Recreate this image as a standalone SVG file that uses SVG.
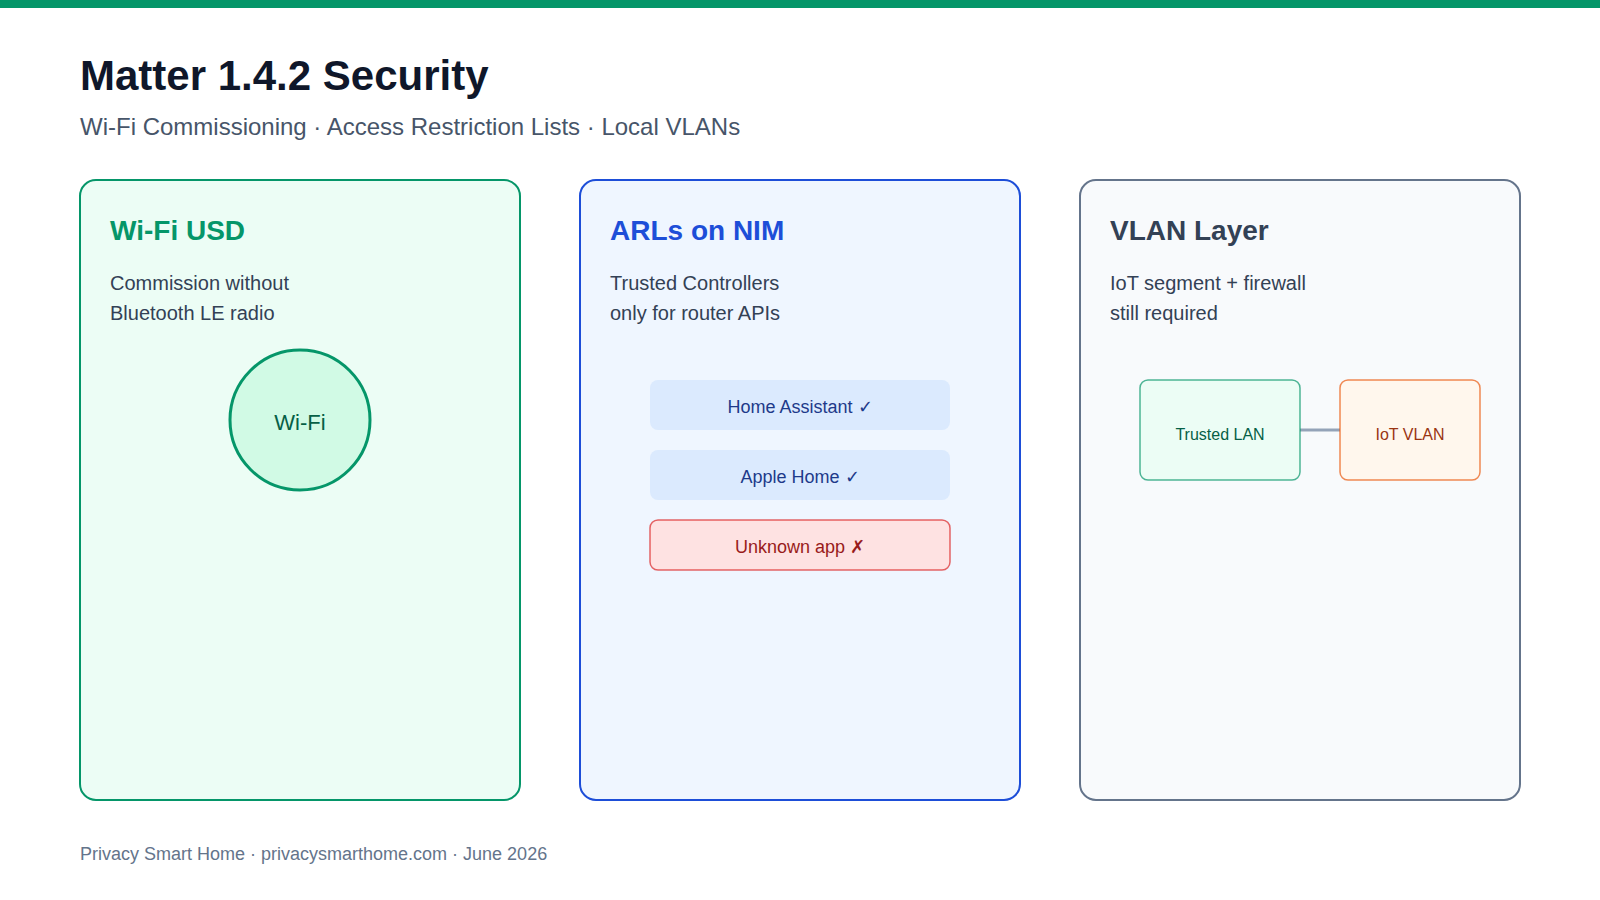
<svg xmlns="http://www.w3.org/2000/svg" width="1600" height="900" viewBox="0 0 1600 900">
<style>
text{font-family:"Liberation Sans",Arial,sans-serif}
.card{stroke-width:2}
.ct{font-size:28px;font-weight:700}
.cb{font-size:20px;fill:#334155}
.pill{font-size:18px;text-anchor:middle}
.net{font-size:16px;text-anchor:middle}
.soft{stroke-width:1.5;stroke-opacity:.7}
</style>
<rect id="topbar" x="0" y="0" width="1600" height="8" fill="#059669"/>
<text x="80" y="90" font-size="42" font-weight="700" fill="#0f172a">Matter 1.4.2 Security</text>
<text x="80" y="135" font-size="24" fill="#475569">Wi-Fi Commissioning · Access Restriction Lists · Local VLANs</text>
<g id="card-wifi">
<rect class="card" x="80" y="180" width="440" height="620" rx="16" fill="#ecfdf5" stroke="#059669"/>
<text class="ct" x="110" y="240" fill="#059669">Wi-Fi USD</text>
<text class="cb" x="110" y="290">Commission without</text>
<text class="cb" x="110" y="320">Bluetooth LE radio</text>
</g>
<g id="node-wifi">
<circle cx="300" cy="420" r="70" fill="#d1fae5" stroke="#059669" stroke-width="3"/>
<text x="300" y="430" font-size="22" text-anchor="middle" fill="#065f46">Wi-Fi</text>
</g>
<g id="card-arl">
<rect class="card" x="580" y="180" width="440" height="620" rx="16" fill="#eff6ff" stroke="#1d4ed8"/>
<text class="ct" x="610" y="240" fill="#1d4ed8">ARLs on NIM</text>
<text class="cb" x="610" y="290">Trusted Controllers</text>
<text class="cb" x="610" y="320">only for router APIs</text>
</g>
<g id="node-ha">
<rect x="650" y="380" width="300" height="50" rx="8" fill="#dbeafe"/>
<text class="pill" x="800" y="413" fill="#1e3a8a">Home Assistant ✓</text>
</g>
<g id="node-apple">
<rect x="650" y="450" width="300" height="50" rx="8" fill="#dbeafe"/>
<text class="pill" x="800" y="483" fill="#1e3a8a">Apple Home ✓</text>
</g>
<g id="node-unknown">
<rect class="soft" x="650" y="520" width="300" height="50" rx="8" fill="#fee2e2" stroke="#dc2626"/>
<text class="pill" x="800" y="553" fill="#991b1b">Unknown app ✗</text>
</g>
<g id="card-vlan">
<rect class="card" x="1080" y="180" width="440" height="620" rx="16" fill="#f8fafc" stroke="#64748b"/>
<text class="ct" x="1110" y="240" fill="#334155">VLAN Layer</text>
<text class="cb" x="1110" y="290">IoT segment + firewall</text>
<text class="cb" x="1110" y="320">still required</text>
</g>
<g id="connectors">
<line x1="1300" y1="430" x2="1340" y2="430" stroke="#94a3b8" stroke-width="3"/>
</g>
<g id="node-trusted">
<rect class="soft" x="1140" y="380" width="160" height="100" rx="8" fill="#ecfdf5" stroke="#059669"/>
<text class="net" x="1220" y="440" fill="#065f46">Trusted LAN</text>
</g>
<g id="node-iot">
<rect class="soft" x="1340" y="380" width="140" height="100" rx="8" fill="#fff7ed" stroke="#ea580c"/>
<text class="net" x="1410" y="440" fill="#9a3412">IoT VLAN</text>
</g>
<text x="80" y="860" font-size="18" fill="#64748b">Privacy Smart Home · privacysmarthome.com · June 2026</text>
</svg>
